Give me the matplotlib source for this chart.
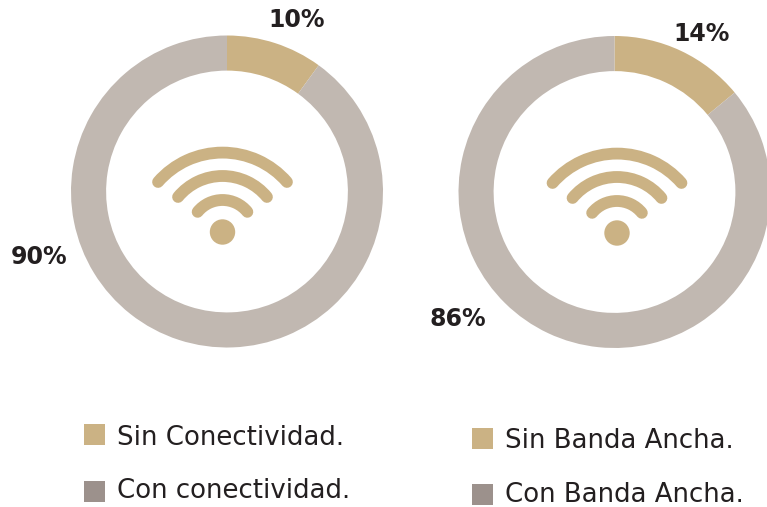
import matplotlib.pyplot as plt
from matplotlib.patches import Arc, Circle, Rectangle

plt.rcParams['font.family'] = ['DejaVu Sans']

W, H = 767, 507
GOLD = '#cbb284'
GREY = '#c1b8b1'
DARK = '#9c918c'
TEXT = '#231f20'

values_left = [10, 90]
values_right = [14, 86]
labels_left = ['Sin Conectividad.', 'Con conectividad.']
labels_right = ['Sin Banda Ancha.', 'Con Banda Ancha.']
pct_left = ['10%', '90%']
pct_right = ['14%', '86%']


def draw_donut(fig, cx, cy, r, values):
    ax = fig.add_axes([(cx - r) / W, 1 - (cy + r) / H, 2 * r / W, 2 * r / H])
    ax.pie(values, colors=[GOLD, GREY], startangle=90, counterclock=False, radius=1,
           wedgeprops={'width': 0.225, 'linewidth': 0})
    ax.set_xlim(-1, 1)
    ax.set_ylim(-1, 1)


def draw_wifi(ax, cx, cy):
    # y axis is inverted on the overlay, so the arcs sit around 270 degrees
    for r, half, dy in [(85.4, 49, 6), (57.6, 50.5, 1.6), (32, 51, 0)]:
        ax.add_patch(Arc((cx, cy + dy), 2 * r, 2 * r, theta1=270 - half, theta2=270 + half,
                         color=GOLD, lw=8.5, capstyle='round'))
    ax.add_patch(Circle((cx, cy), 12.7, color=GOLD, lw=0))


def draw_legend(ax, x, squares, baselines, labels):
    for y, base, label, color in zip(squares, baselines, labels, [GOLD, DARK]):
        ax.add_patch(Rectangle((x, y - 10.5), 21, 21, color=color, lw=0))
        ax.text(x + 33, base, label, fontsize=18.7, color=TEXT, va='baseline', ha='left')


fig = plt.figure(figsize=(W / 100, H / 100), dpi=100)
draw_donut(fig, 227, 191.5, 156, values_left)
draw_donut(fig, 614.5, 192, 156, values_right)

overlay = fig.add_axes([0, 0, 1, 1])
overlay.set_xlim(0, W)
overlay.set_ylim(H, 0)
overlay.axis('off')
overlay.patch.set_alpha(0)

draw_wifi(overlay, 222.5, 232)
draw_wifi(overlay, 617, 233)

bold = dict(fontsize=17, fontweight='bold', color=TEXT, ha='center', va='center')
overlay.text(297, 20, pct_left[0], **bold)
overlay.text(39, 257, pct_left[1], **bold)
overlay.text(702, 34, pct_right[0], **bold)
overlay.text(458, 319, pct_right[1], **bold)

draw_legend(overlay, 84, [434.5, 491.5], [445, 498.5], labels_left)
draw_legend(overlay, 472, [438, 494.5], [448, 501.5], labels_right)

fig.savefig('out.png', dpi=100)
